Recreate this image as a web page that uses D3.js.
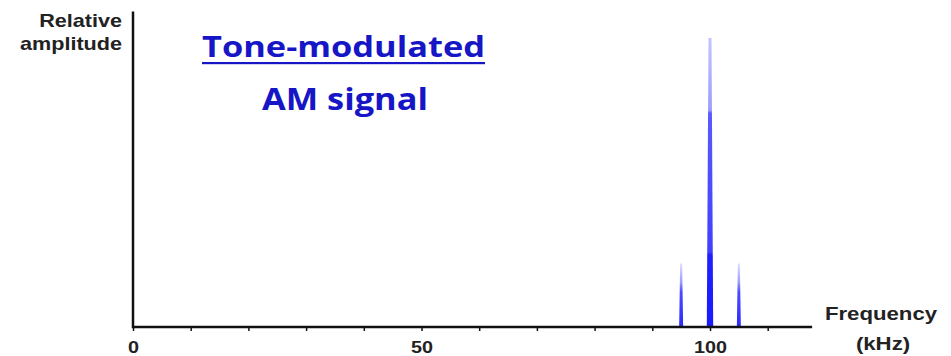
<!DOCTYPE html>
<html>
<head>
<meta charset="utf-8">
<script src="https://cdn.jsdelivr.net/npm/d3@7/dist/d3.min.js"></script>
<style>
  html, body { margin: 0; padding: 0; background: #fff; }
  svg { display: block; }
</style>
</head>
<body>
<script>
// Spectrum of a tone-modulated AM signal: carrier plus two side frequencies
const frequencies = [95, 100, 105];          // kHz
const amplitudes  = [0.22, 1.0, 0.22];       // relative amplitude
const kinds       = ["side", "carrier", "side"];
const tickValues  = [0, 10, 20, 30, 40, 50, 60, 70, 80, 90, 100, 110];
const tickLabels  = [0, 50, 100];

const W = 951, H = 356;
const svg = d3.select("body").append("svg").attr("width", W).attr("height", H);

const x = d3.scaleLinear().domain([0, 100]).range([133, 710]);
const y = d3.scaleLinear().domain([0, 1]).range([327, 38]);
const xMax = 117.7, yMax = 1.087;

const axisColor = "#111";
const titleBlue = "#1616c6";
const font = "'Liberation Sans', Arial, sans-serif";
const stretch = 1.2;

// gradients that make the spectral lines fade towards their tips
const defs = svg.append("defs");
const gCar = defs.append("linearGradient").attr("id", "gradCarrier")
  .attr("x1", 0).attr("y1", 0).attr("x2", 0).attr("y2", 1);
[[0, "#c4c4ff"], [0.25, "#9c9cff"], [0.26, "#5a5aff"], [0.74, "#4040ff"], [0.75, "#2020ff"], [1, "#1a1aff"]]
  .forEach(([o, c]) => gCar.append("stop").attr("offset", o).attr("stop-color", c));
const gSide = defs.append("linearGradient").attr("id", "gradSide")
  .attr("x1", 0).attr("y1", 0).attr("x2", 0).attr("y2", 1);
[[0, "#e0e0ff"], [0.3, "#9a9aff"], [0.45, "#4a4aff"], [1, "#2a2aff"]]
  .forEach(([o, c]) => gSide.append("stop").attr("offset", o).attr("stop-color", c));

// spectral lines as narrow tapered spikes
const spikes = frequencies.map((f, i) => ({ f, a: amplitudes[i], kind: kinds[i] }));
svg.append("g").selectAll("path").data(spikes).join("path")
  .attr("d", d => {
    const cx = x(d.f), y0 = y(0), y1 = y(d.a);
    const wb = d.kind === "carrier" ? 3.2 : 2.0;   // half-width at base
    const wt = d.kind === "carrier" ? 1.5 : 1.0;   // half-width at tip
    return `M${cx - wb},${y0} L${cx - wt},${y1} L${cx + wt},${y1} L${cx + wb},${y0} Z`;
  })
  .attr("fill", d => d.kind === "carrier" ? "url(#gradCarrier)" : "url(#gradSide)");

// frequency axis with small ticks every 10 kHz
const xAxis = d3.axisBottom(x)
  .tickValues(tickValues)
  .tickSize(4)
  .tickFormat(v => tickLabels.includes(v) ? String(v) : "");
const gx = svg.append("g").attr("transform", `translate(0,${y(0)})`).call(xAxis);
gx.select(".domain").remove();
gx.selectAll(".tick line").attr("stroke", axisColor).attr("stroke-width", 1.5);
gx.selectAll(".tick text")
  .attr("y", 26).attr("dy", null)
  .attr("fill", "#222")
  .attr("font-family", font).attr("font-weight", "bold").attr("font-size", 16.5)
  .attr("transform", `scale(${stretch},1)`);

// axis lines
svg.append("line")
  .attr("x1", x(0)).attr("x2", x(xMax)).attr("y1", y(0)).attr("y2", y(0))
  .attr("stroke", axisColor).attr("stroke-width", 2.5);
svg.append("line")
  .attr("x1", x(0)).attr("x2", x(0)).attr("y1", y(yMax)).attr("y2", y(0))
  .attr("stroke", axisColor).attr("stroke-width", 2.5).attr("stroke-linecap", "square");

// axis titles
function label(text, px, py, anchor, size) {
  svg.append("text")
    .attr("transform", `translate(${px},${py}) scale(${stretch},1)`)
    .attr("text-anchor", anchor)
    .attr("font-family", font).attr("font-weight", "bold").attr("font-size", size)
    .attr("fill", "#222")
    .text(text);
}
label("Relative", 122, 27, "end", 18);
label("amplitude", 122, 50, "end", 18);
label("Frequency", 881, 320, "middle", 18.5);
label("(kHz)", 883, 350, "middle", 18.5);

// chart title
const titleFont = "'Open Sans', Lato, sans-serif";
svg.append("text")
  .attr("x", 202).attr("y", 57)
  .attr("textLength", 283).attr("lengthAdjust", "spacingAndGlyphs")
  .attr("font-family", titleFont).attr("font-weight", "bold").attr("font-size", 29)
  .attr("fill", titleBlue)
  .text("Tone-modulated");
svg.append("rect")
  .attr("x", 202).attr("y", 62).attr("width", 283).attr("height", 2.2)
  .attr("fill", titleBlue);
svg.append("text")
  .attr("x", 262).attr("y", 110)
  .attr("textLength", 166).attr("lengthAdjust", "spacingAndGlyphs")
  .attr("font-family", titleFont).attr("font-weight", "bold").attr("font-size", 30)
  .attr("fill", titleBlue)
  .text("AM signal");
</script>
</body>
</html>
